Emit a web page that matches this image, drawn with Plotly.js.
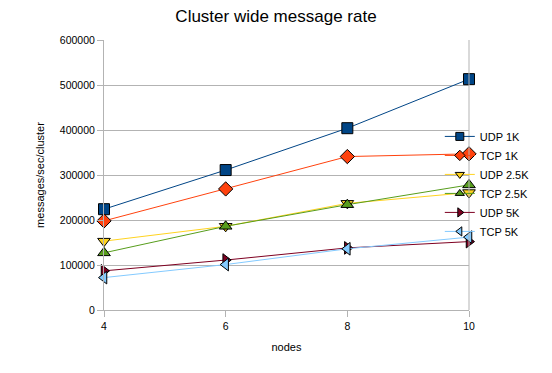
<!DOCTYPE html>
<html>
<head>
<meta charset="utf-8">
<script src="https://cdn.plot.ly/plotly-3.0.1.min.js"></script>
<style>html,body{margin:0;padding:0;background:#fff;}#chart{width:552px;height:373px;}</style>
</head>
<body>
<div id="chart"></div>
<script>
const nodes = [4, 6, 8, 10];
const seriesNames = ["UDP 1K", "TCP 1K", "UDP 2.5K", "TCP 2.5K", "UDP 5K", "TCP 5K"];
const udp1k  = [224000, 311000, 404000, 513000];
const tcp1k  = [198000, 269000, 341000, 347000];
const udp25k = [153000, 186000, 237000, 261000];
const tcp25k = [127000, 186000, 234000, 278000];
const udp5k  = [87000, 111000, 138000, 152000];
const tcp5k  = [72000, 101000, 136000, 162000];
const seriesValues = [udp1k, tcp1k, udp25k, tcp25k, udp5k, tcp5k];
const colors = ["#004586", "#ff420e", "#ffd320", "#579d1c", "#7e0021", "#83caff"];
const symbols = ["square", "diamond", "triangle-down", "triangle-up", "triangle-right", "triangle-left"];

const font = "Liberation Sans, Arial, sans-serif";
const traces = [];
seriesNames.forEach((name, i) => {
  traces.push({
    type: "scatter", mode: "lines+markers", name: name, x: nodes, y: seriesValues[i],
    legendgroup: name, showlegend: false, cliponaxis: false,
    line: {color: colors[i], width: 1},
    marker: {symbol: symbols[i], size: 11, color: colors[i], line: {color: "#000", width: 1}}
  });
});
seriesNames.forEach((name, i) => {
  traces.push({
    type: "scatter", mode: "lines+markers", name: name, x: [null], y: [null],
    legendgroup: name, showlegend: true,
    line: {color: colors[i], width: 1},
    marker: {symbol: symbols[i], size: 8, color: colors[i], line: {color: "#000", width: 1}}
  });
});

const layout = {
  width: 552, height: 373,
  margin: {l: 104, r: 83, t: 40, b: 63},
  paper_bgcolor: "#fff", plot_bgcolor: "#fff",
  font: {family: font, size: 11, color: "#000"},
  title: {text: "Cluster wide message rate", font: {family: font, size: 17, color: "#000"}, x: 0.5, xanchor: "center", y: 0.957, yanchor: "middle"},
  xaxis: {
    range: [4, 10], tickvals: nodes, ticktext: nodes.map(String),
    showgrid: false, zeroline: false,
    showline: true, linecolor: "#b3b3b3", linewidth: 1, mirror: false,
    ticks: "outside", ticklen: 6, tickcolor: "#b3b3b3",
    tickfont: {family: font, size: 10.5, color: "#000"},
    title: {text: "nodes", font: {family: font, size: 11, color: "#000"}, standoff: 12}
  },
  yaxis: {
    range: [0, 600000], dtick: 100000, tickformat: "d",
    showgrid: true, gridcolor: "#b3b3b3", gridwidth: 1, zeroline: false,
    showline: true, linecolor: "#b3b3b3", linewidth: 1,
    ticks: "outside", ticklen: 6, tickcolor: "#b3b3b3",
    tickfont: {family: font, size: 10.5, color: "#000"},
    title: {text: "messages/sec/cluster", font: {family: font, size: 11, color: "#000"}, standoff: 13}
  },
  shapes: [{type: "line", xref: "paper", yref: "paper", x0: 1, x1: 1, y0: 0, y1: 1, line: {color: "#b3b3b3", width: 1}}],
  legend: {
    x: 0.92, xanchor: "left", y: 0.467, yanchor: "middle",
    bgcolor: "rgba(0,0,0,0)", borderwidth: 0,
    font: {family: font, size: 11, color: "#000"},
    tracegroupgap: 0, itemsizing: "trace"
  },
  showlegend: true
};

Plotly.newPlot("chart", traces, layout, {displayModeBar: false, staticPlot: true});
</script>
</body>
</html>
